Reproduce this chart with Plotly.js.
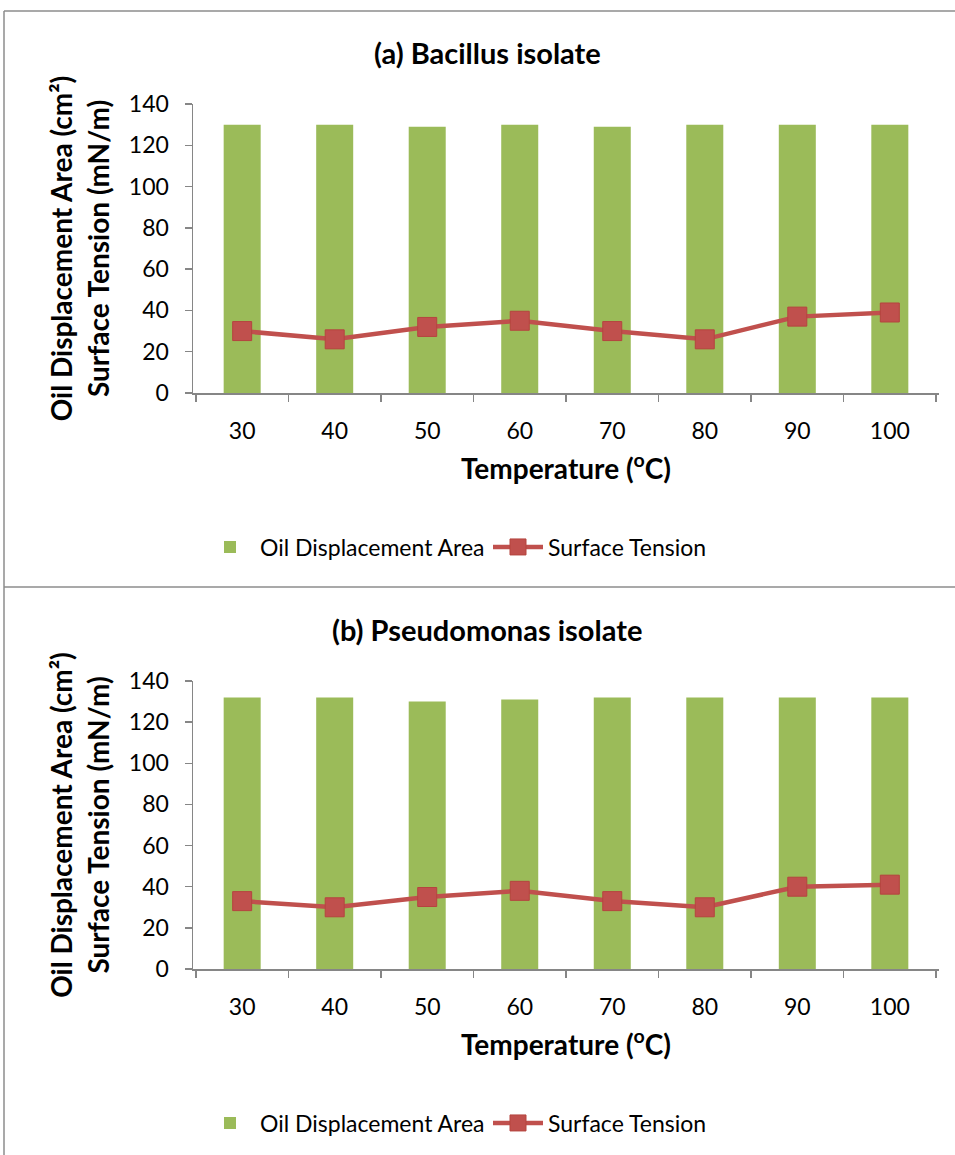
<!DOCTYPE html>
<html>
<head>
<meta charset="utf-8">
<script src="https://cdn.plot.ly/plotly-3.0.1.min.js"></script>
<style>html,body{margin:0;padding:0;background:#fff;}#chart{width:955px;height:1155px;}</style>
</head>
<body>
<div id="chart"></div>
<script>
const temperatures = ['30', '40', '50', '60', '70', '80', '90', '100'];
const bacillusOilArea = [130, 130, 129, 130, 129, 130, 130, 130];
const bacillusSurfaceTension = [30, 26, 32, 35, 30, 26, 37, 39];
const pseudomonasOilArea = [132, 132, 130, 131, 132, 132, 132, 132];
const pseudomonasSurfaceTension = [33, 30, 35, 38, 33, 30, 40, 41];
const panelTitles = ['(a) Bacillus isolate', '(b) Pseudomonas isolate'];

const W = 955, H = 1155;
const FONT = 'Lato, "Open Sans", sans-serif';
const green = '#9BBB59', red = '#C0504D', axisGrey = '#868686';

function px(x) { return x / W; }
function py(y) { return 1 - y / H; }

function barTrace(y, xa, ya, leg) {
  return {type: 'bar', x: temperatures, y: y, xaxis: xa, yaxis: ya, name: 'Oil Displacement Area',
    marker: {color: green}, legend: leg, hoverinfo: 'y'};
}
function lineTrace(y, xa, ya, leg) {
  return {type: 'scatter', mode: 'lines+markers', x: temperatures, y: y, xaxis: xa, yaxis: ya,
    name: 'Surface Tension', legend: leg,
    line: {color: red, width: 4.5},
    marker: {symbol: 'square', size: 19, color: red, line: {color: '#B5443F', width: 1}}};
}

const data = [
  barTrace(bacillusOilArea, 'x', 'y', 'legend'),
  lineTrace(bacillusSurfaceTension, 'x', 'y', 'legend'),
  barTrace(pseudomonasOilArea, 'x2', 'y2', 'legend2'),
  lineTrace(pseudomonasSurfaceTension, 'x2', 'y2', 'legend2')
];

function xAxis() {
  return {
    domain: [px(193), px(939)], type: 'category', tickson: 'boundaries',
    ticks: 'outside', ticklen: 7, tickcolor: axisGrey, tickwidth: 1.5,
    showline: true, linecolor: axisGrey, linewidth: 1.5, showgrid: false, zeroline: false,
    tickfont: {family: FONT, size: 23, color: '#000'}, ticklabelstandoff: 17,
    title: {text: 'Temperature (<sup>o</sup>C)', font: {family: FONT, size: 28, color: '#000', weight: 'bold'}, standoff: 16},
    fixedrange: true
  };
}
function yAxis(domain) {
  return {
    domain: domain, range: [0, 140], dtick: 20, tick0: 0,
    ticks: 'outside', ticklen: 7, tickcolor: axisGrey, tickwidth: 1.5,
    showline: true, linecolor: axisGrey, linewidth: 1.5, showgrid: false, zeroline: false,
    tickfont: {family: FONT, size: 23, color: '#000'}, ticklabelstandoff: 11,
    title: {text: 'Oil Displacement Area (cm²)<br>Surface Tension (mN/m)', font: {family: FONT, size: 28, color: '#000', weight: 'bold'}, standoff: 11},
    fixedrange: true
  };
}

const legendBase = {
  orientation: 'h', xanchor: 'left', yanchor: 'middle',
  font: {family: FONT, size: 23, color: '#000'},
  bgcolor: 'rgba(0,0,0,0)', entrywidth: 223, entrywidthmode: 'pixels', itemwidth: 50
};

const layout = {
  width: W, height: H,
  margin: {l: 0, r: 0, t: 0, b: 0},
  paper_bgcolor: '#fff', plot_bgcolor: '#fff',
  bargap: 0.6,
  showlegend: true,
  xaxis: Object.assign(xAxis(), {anchor: 'y'}),
  yaxis: Object.assign(yAxis([py(393), py(104)]), {anchor: 'x'}),
  xaxis2: Object.assign(xAxis(), {anchor: 'y2'}),
  yaxis2: Object.assign(yAxis([py(969), py(681)]), {anchor: 'x2'}),
  legend: Object.assign({}, legendBase, {x: px(200), y: py(547)}),
  legend2: Object.assign({}, legendBase, {x: px(200), y: py(1123)}),
  annotations: [
    {text: '<b>' + panelTitles[0] + '</b>', xref: 'paper', yref: 'paper', x: px(487), y: py(52), showarrow: false,
      font: {family: FONT, size: 29, color: '#000'}, xanchor: 'center', yanchor: 'middle'},
    {text: '<b>' + panelTitles[1] + '</b>', xref: 'paper', yref: 'paper', x: px(487), y: py(629), showarrow: false,
      font: {family: FONT, size: 29, color: '#000'}, xanchor: 'center', yanchor: 'middle'}
  ],
  shapes: [
    {type: 'line', xref: 'paper', yref: 'paper', x0: px(4), x1: 1, y0: py(11), y1: py(11), line: {color: '#8C8C8C', width: 1.5}},
    {type: 'line', xref: 'paper', yref: 'paper', x0: px(4), x1: 1, y0: py(587), y1: py(587), line: {color: '#8C8C8C', width: 1.5}},
    {type: 'line', xref: 'paper', yref: 'paper', x0: px(4), x1: px(4), y0: py(11), y1: 0, line: {color: '#8C8C8C', width: 1.5}}
  ]
};

Plotly.newPlot('chart', data, layout, {displayModeBar: false, staticPlot: true});
</script>
</body>
</html>
